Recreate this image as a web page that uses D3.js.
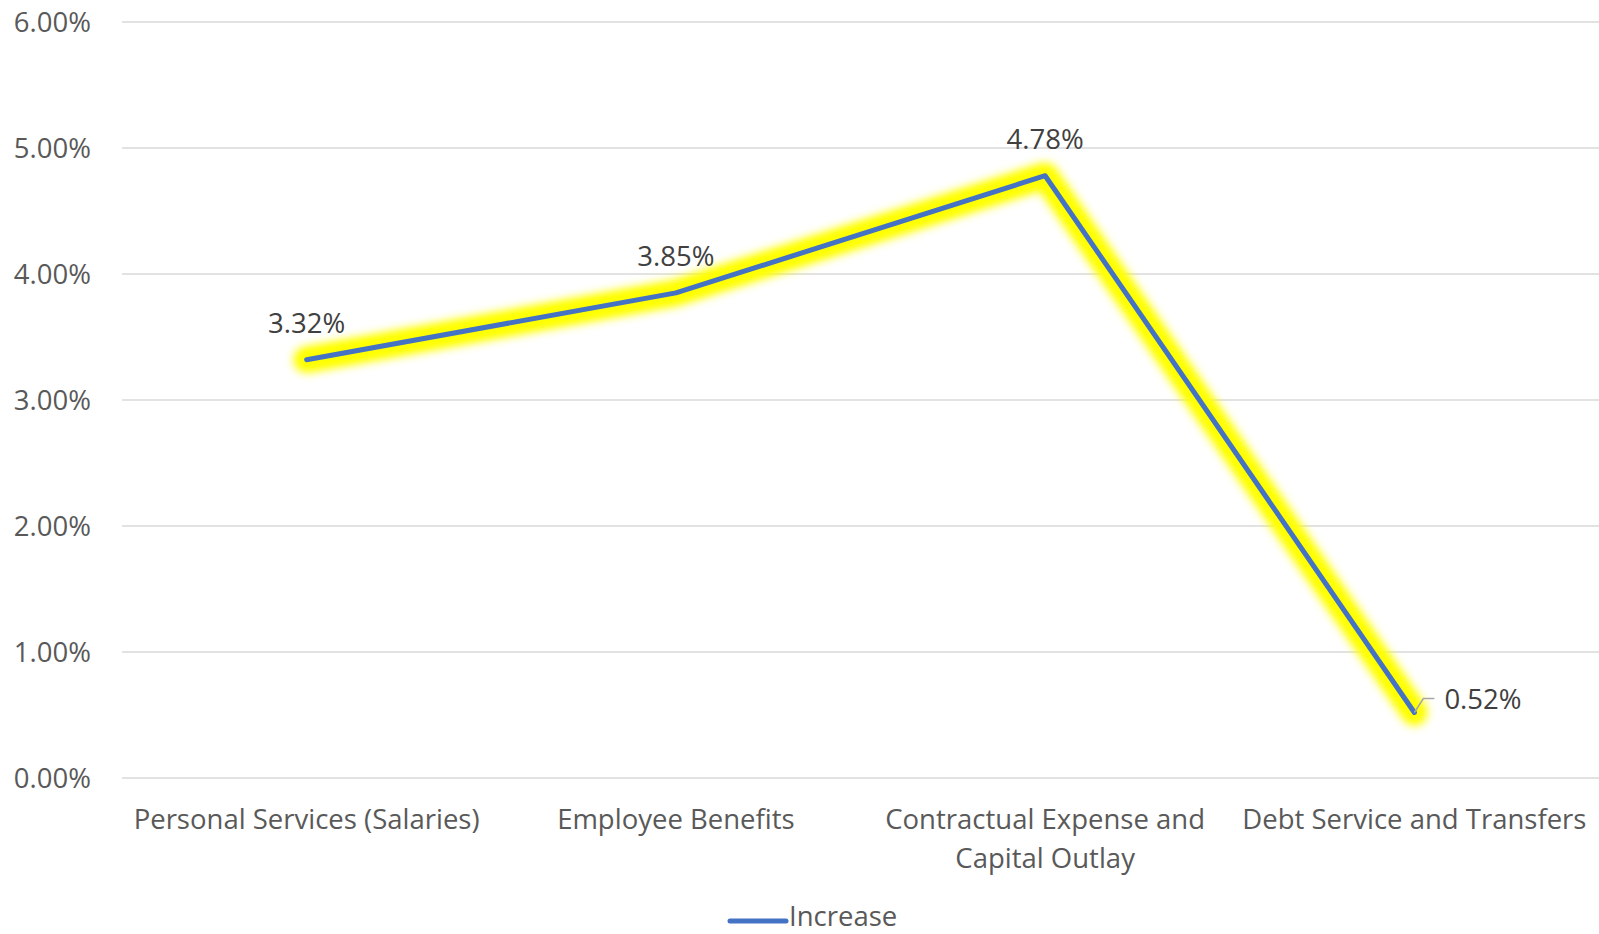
<!DOCTYPE html>
<html>
<head>
<meta charset="utf-8">
<script src="https://cdn.jsdelivr.net/npm/d3@7"></script>
<style>
  html, body { margin: 0; padding: 0; background: #fff; }
  svg { display: block; }
</style>
</head>
<body>
<div id="app"></div>
<script>
const categories = ["Personal Services (Salaries)", "Employee Benefits", "Contractual Expense and Capital Outlay", "Debt Service and Transfers"];
const categoryLines = [["Personal Services (Salaries)"], ["Employee Benefits"], ["Contractual Expense and", "Capital Outlay"], ["Debt Service and Transfers"]];
const increase = [3.32, 3.85, 4.78, 0.52];
const yTicks = [0, 1, 2, 3, 4, 5, 6];
const seriesName = "Increase";

const width = 1599;
const height = 934;
const plotLeft = 122;
const plotRight = 1599;
const plotTop = 22;
const plotBottom = 778;

const fontFamily = "'Open Sans', 'Noto Sans', sans-serif";
const fontSize = "27.5px";
const lineColor = "#4472C4";

const svg = d3.select("#app")
    .append("svg")
    .attr("width", width)
    .attr("height", height)
    .style("font-family", fontFamily);

const defs = svg.append("defs");
const glow = defs.append("filter")
    .attr("id", "glow")
    .attr("x", "-20%").attr("y", "-20%")
    .attr("width", "140%").attr("height", "140%");
glow.append("feGaussianBlur").attr("stdDeviation", 5);

const x = d3.scaleBand()
    .domain(categories)
    .range([plotLeft, plotRight]);

const y = d3.scaleLinear()
    .domain([0, 6])
    .range([plotBottom, plotTop]);

//GRIDLINES
svg.append("g")
    .selectAll("line")
    .data(yTicks)
    .enter()
    .append("line")
    .attr("x1", plotLeft)
    .attr("x2", plotRight)
    .attr("y1", d => y(d))
    .attr("y2", d => y(d))
    .style("stroke", "#d9d9d9")
    .style("stroke-width", 1.5);

//Y AXIS LABELS
svg.append("g")
    .selectAll("text")
    .data(yTicks)
    .enter()
    .append("text")
    .attr("x", 91)
    .attr("y", d => y(d) + 10)
    .attr("text-anchor", "end")
    .style("font-size", fontSize)
    .style("fill", "#595959")
    .text(d => d.toFixed(2) + "%");

//X AXIS LABELS
const xLabels = svg.append("g")
    .selectAll("text")
    .data(categories)
    .enter()
    .append("text")
    .attr("x", d => x(d) + x.bandwidth() / 2)
    .attr("y", 829)
    .attr("text-anchor", "middle")
    .style("font-size", fontSize)
    .style("fill", "#595959");
xLabels.each(function (d, i) {
    d3.select(this).selectAll("tspan")
        .data(categoryLines[i])
        .enter()
        .append("tspan")
        .attr("x", x(d) + x.bandwidth() / 2)
        .attr("dy", (t, j) => j === 0 ? 0 : 39)
        .text(t => t);
});

//LINE
const points = categories.map((c, i) => [x(c) + x.bandwidth() / 2, y(increase[i])]);
const line = d3.line();

svg.append("path")
    .attr("d", line(points))
    .attr("filter", "url(#glow)")
    .style("fill", "none")
    .style("stroke", "#ffff00")
    .style("stroke-width", 26)
    .style("stroke-linejoin", "round")
    .style("stroke-linecap", "round");

svg.append("path")
    .attr("d", line(points))
    .attr("filter", "url(#glow)")
    .style("fill", "none")
    .style("stroke", "#ffff00")
    .style("stroke-width", 14)
    .style("stroke-linejoin", "round")
    .style("stroke-linecap", "round");

svg.append("path")
    .attr("d", line(points))
    .style("fill", "none")
    .style("stroke", lineColor)
    .style("stroke-width", 5)
    .style("stroke-linejoin", "round")
    .style("stroke-linecap", "round");

//DATA LABELS
const labels = svg.append("g");
increase.forEach(function (v, i) {
    const [px, py] = points[i];
    const last = i === increase.length - 1;
    if (last) {
        labels.append("path")
            .attr("d", `M${px},${py}L${px + 9},${py - 14}L${px + 20},${py - 14}`)
            .style("fill", "none")
            .style("stroke", "#a6a6a6")
            .style("stroke-width", 1.5);
    }
    labels.append("text")
        .attr("x", last ? px + 30 : px)
        .attr("y", last ? py - 3 : py - 27)
        .attr("text-anchor", last ? "start" : "middle")
        .style("font-size", fontSize)
        .style("fill", "#404040")
        .text(v.toFixed(2) + "%");
});

//LEGEND
const legend = svg.append("g");
legend.append("line")
    .attr("x1", 730)
    .attr("x2", 786)
    .attr("y1", 921)
    .attr("y2", 921)
    .style("stroke", lineColor)
    .style("stroke-width", 5)
    .style("stroke-linecap", "round");
legend.append("text")
    .attr("x", 789)
    .attr("y", 926)
    .style("font-size", fontSize)
    .style("fill", "#595959")
    .text(seriesName);
</script>
</body>
</html>
